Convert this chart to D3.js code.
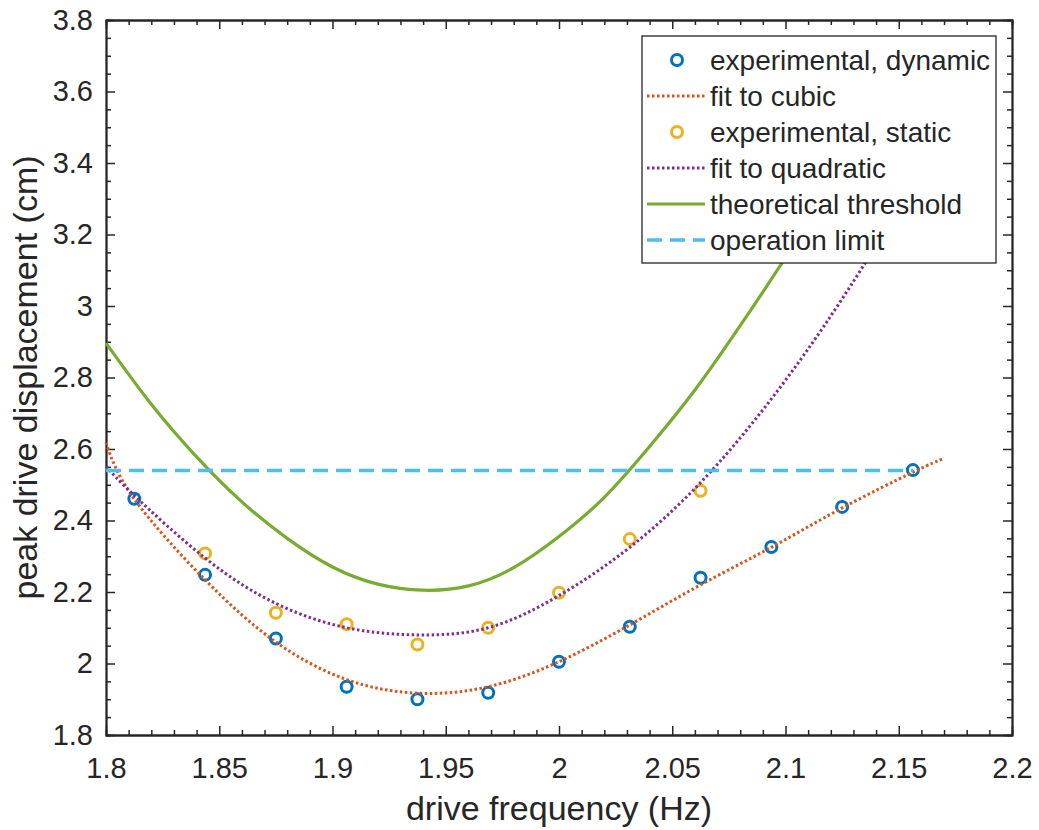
<!DOCTYPE html>
<html>
<head>
<meta charset="utf-8">
<script src="https://cdn.jsdelivr.net/npm/d3@7"></script>
<style>
body { margin: 0; background: #fff; }
text { font-family: "Liberation Sans", Arial, Helvetica, sans-serif; fill: #262626; }
</style>
</head>
<body>
<div id="the_chart"></div>
<script>
var freqDyn = [1.8125, 1.84375, 1.875, 1.90625, 1.9375, 1.96875, 2.0, 2.03125, 2.0625, 2.09375, 2.125, 2.15625];
var dispDyn = [2.461, 2.248, 2.070, 1.935, 1.900, 1.918, 2.005, 2.103, 2.240, 2.326, 2.438, 2.541];

var freqStat = [1.84375, 1.875, 1.90625, 1.9375, 1.96875, 2.0, 2.03125, 2.0625];
var dispStat = [2.308, 2.142, 2.110, 2.053, 2.100, 2.198, 2.348, 2.483];

// fitted curves
var fitX   = [1.8, 1.8125, 1.84375, 1.875, 1.90625, 1.9375, 1.96875, 2.0, 2.03125, 2.0625, 2.09375, 2.125, 2.15625, 2.17];
var cubicY = [2.617, 2.46, 2.234, 2.06, 1.955, 1.917, 1.935, 2.005, 2.108, 2.22, 2.325, 2.435, 2.535, 2.574];
var quadY  = [2.552, 2.47, 2.295, 2.168, 2.10, 2.08, 2.10, 2.19, 2.325, 2.506, 2.74, 3.02, 3.34, 3.51];

var threshX = [1.80, 1.82, 1.84, 1.86, 1.88, 1.90, 1.92, 1.94, 1.96, 1.98, 2.00, 2.02, 2.04, 2.06, 2.08, 2.10, 2.12, 2.14];
var threshY = [2.896, 2.725, 2.578, 2.452, 2.35, 2.27, 2.222, 2.205, 2.217, 2.268, 2.355, 2.465, 2.607, 2.765, 2.945, 3.135, 3.335, 3.545];

var limitX = [1.8, 2.15625];
var limitY = 2.54;

var xTicks = [1.8, 1.85, 1.9, 1.95, 2.0, 2.05, 2.1, 2.15, 2.2];
var xTickLabels = ["1.8", "1.85", "1.9", "1.95", "2", "2.05", "2.1", "2.15", "2.2"];
var yTicks = [1.8, 2.0, 2.2, 2.4, 2.6, 2.8, 3.0, 3.2, 3.4, 3.6, 3.8];
var yTickLabels = ["1.8", "2", "2.2", "2.4", "2.6", "2.8", "3", "3.2", "3.4", "3.6", "3.8"];

var legendNames = ["experimental, dynamic", "fit to cubic", "experimental, static",
                   "fit to quadratic", "theoretical threshold", "operation limit"];

gen_plot();

function gen_plot() {
    var w = 1039;
    var h = 830;
    var left = 106, right = 1012, top = 20, bottom = 735;
    var axisColor = "#262626";

    var svg = d3.select("#the_chart")
                .append("svg")
                .attr("width", w)
                .attr("height", h)
                .style("background", "#fff");

    var xscale = d3.scaleLinear().domain([1.8, 2.2]).range([left, right]);
    var yscale = d3.scaleLinear().domain([1.8, 3.8]).range([bottom, top]);

    var xMinor = d3.range(1.8, 2.2001, 0.01).filter(function(v) { return Math.abs(v * 20 - Math.round(v * 20)) > 1e-6; });
    var yMinor = d3.range(1.8, 3.8001, 0.05).filter(function(v) { return Math.abs(v * 5 - Math.round(v * 5)) > 1e-6; });

    // minor ticks, all four sides, pointing inward
    svg.append("g").attr("transform", "translate(0," + bottom + ")")
       .call(d3.axisBottom(xscale).tickValues(xMinor).tickSize(-5).tickFormat(""));
    svg.append("g").attr("transform", "translate(0," + top + ")")
       .call(d3.axisTop(xscale).tickValues(xMinor).tickSize(-5).tickFormat(""));
    svg.append("g").attr("transform", "translate(" + left + ",0)")
       .call(d3.axisLeft(yscale).tickValues(yMinor).tickSize(-5).tickFormat(""));
    svg.append("g").attr("transform", "translate(" + right + ",0)")
       .call(d3.axisRight(yscale).tickValues(yMinor).tickSize(-5).tickFormat(""));

    // major ticks
    var gX = svg.append("g").attr("transform", "translate(0," + bottom + ")")
       .call(d3.axisBottom(xscale).tickValues(xTicks).tickSizeInner(-9).tickSizeOuter(0).tickPadding(22)
             .tickFormat(function(d, i) { return xTickLabels[i]; }));
    svg.append("g").attr("transform", "translate(0," + top + ")")
       .call(d3.axisTop(xscale).tickValues(xTicks).tickSizeInner(-9).tickSizeOuter(0).tickFormat(""));
    var gY = svg.append("g").attr("transform", "translate(" + left + ",0)")
       .call(d3.axisLeft(yscale).tickValues(yTicks).tickSizeInner(-9).tickSizeOuter(0).tickPadding(13)
             .tickFormat(function(d, i) { return yTickLabels[i]; }));
    svg.append("g").attr("transform", "translate(" + right + ",0)")
       .call(d3.axisRight(yscale).tickValues(yTicks).tickSizeInner(-9).tickSizeOuter(0).tickFormat(""));

    svg.selectAll(".tick line").attr("stroke", axisColor).attr("stroke-width", 1.5);
    svg.selectAll(".domain").attr("stroke", axisColor).attr("stroke-width", 1.8);
    svg.selectAll(".tick text").attr("font-size", 29).attr("fill", axisColor)
       .attr("font-family", "'Liberation Sans', Arial, Helvetica, sans-serif");

    // axis labels
    svg.append("text")
       .attr("x", (left + right) / 2)
       .attr("y", 820)
       .attr("text-anchor", "middle")
       .attr("font-size", 34)
       .text("drive frequency (Hz)");

    svg.append("text")
       .attr("transform", "translate(37," + ((top + bottom) / 2) + ") rotate(-90)")
       .attr("text-anchor", "middle")
       .attr("font-size", 34)
       .text("peak drive displacement (cm)");

    var plot = svg.append("g");

    var line = d3.line()
                 .x(function(d) { return xscale(d[0]); })
                 .y(function(d) { return yscale(d[1]); })
                 .curve(d3.curveNatural);

    // experimental, dynamic
    plot.selectAll("circle.dyn")
        .data(d3.zip(freqDyn, dispDyn))
      .enter().append("circle")
        .attr("class", "dyn")
        .attr("r", 5.5)
        .attr("fill", "none")
        .attr("stroke", "#0072BD")
        .attr("stroke-width", 3)
        .attr("cx", function(d) { return xscale(d[0]); })
        .attr("cy", function(d) { return yscale(d[1]); });

    // fit to cubic
    plot.append("path")
        .datum(d3.zip(fitX, cubicY))
        .attr("d", line)
        .attr("fill", "none")
        .attr("stroke", "#D95319")
        .attr("stroke-width", 3)
        .attr("stroke-dasharray", "2.5,2.5");

    // experimental, static
    plot.selectAll("circle.stat")
        .data(d3.zip(freqStat, dispStat))
      .enter().append("circle")
        .attr("class", "stat")
        .attr("r", 5.5)
        .attr("fill", "none")
        .attr("stroke", "#EDB120")
        .attr("stroke-width", 3)
        .attr("cx", function(d) { return xscale(d[0]); })
        .attr("cy", function(d) { return yscale(d[1]); });

    // fit to quadratic
    plot.append("path")
        .datum(d3.zip(fitX, quadY))
        .attr("d", line)
        .attr("fill", "none")
        .attr("stroke", "#7E2F8E")
        .attr("stroke-width", 3)
        .attr("stroke-dasharray", "2.5,2.5");

    // theoretical threshold
    plot.append("path")
        .datum(d3.zip(threshX, threshY))
        .attr("d", line)
        .attr("fill", "none")
        .attr("stroke", "#77AC30")
        .attr("stroke-width", 3.2);

    // operation limit
    plot.append("path")
        .datum(limitX.map(function(x) { return [x, limitY]; }))
        .attr("d", d3.line().x(function(d) { return xscale(d[0]); }).y(function(d) { return yscale(d[1]); }))
        .attr("fill", "none")
        .attr("stroke", "#4DBEEE")
        .attr("stroke-width", 3.5)
        .attr("stroke-dasharray", "15,8");

    // legend
    var lg = svg.append("g");
    lg.append("rect")
      .attr("x", 642).attr("y", 36)
      .attr("width", 354).attr("height", 227)
      .attr("fill", "#fff")
      .attr("stroke", axisColor)
      .attr("stroke-width", 1.3);

    var kinds = ["dyn", "cubic", "stat", "quad", "thresh", "limit"];
    kinds.forEach(function(k, i) {
        var y = 60 + i * 36;
        if (k == "dyn" || k == "stat") {
            lg.append("circle")
              .attr("cx", 677).attr("cy", y).attr("r", 5.5)
              .attr("fill", "none")
              .attr("stroke", k == "dyn" ? "#0072BD" : "#EDB120")
              .attr("stroke-width", 3);
        } else {
            var l = lg.append("line")
              .attr("x1", 647).attr("x2", 705)
              .attr("y1", y).attr("y2", y)
              .attr("fill", "none");
            if (k == "cubic") l.attr("stroke", "#D95319").attr("stroke-width", 3).attr("stroke-dasharray", "2.5,2.5");
            if (k == "quad") l.attr("stroke", "#7E2F8E").attr("stroke-width", 3).attr("stroke-dasharray", "2.5,2.5");
            if (k == "thresh") l.attr("stroke", "#77AC30").attr("stroke-width", 3.2);
            if (k == "limit") l.attr("stroke", "#4DBEEE").attr("stroke-width", 3.5).attr("stroke-dasharray", "15,8");
        }
        lg.append("text")
          .attr("x", 710)
          .attr("y", y)
          .attr("dy", "0.35em")
          .attr("font-size", 28)
          .text(legendNames[i]);
    });
}
</script>
</body>
</html>
